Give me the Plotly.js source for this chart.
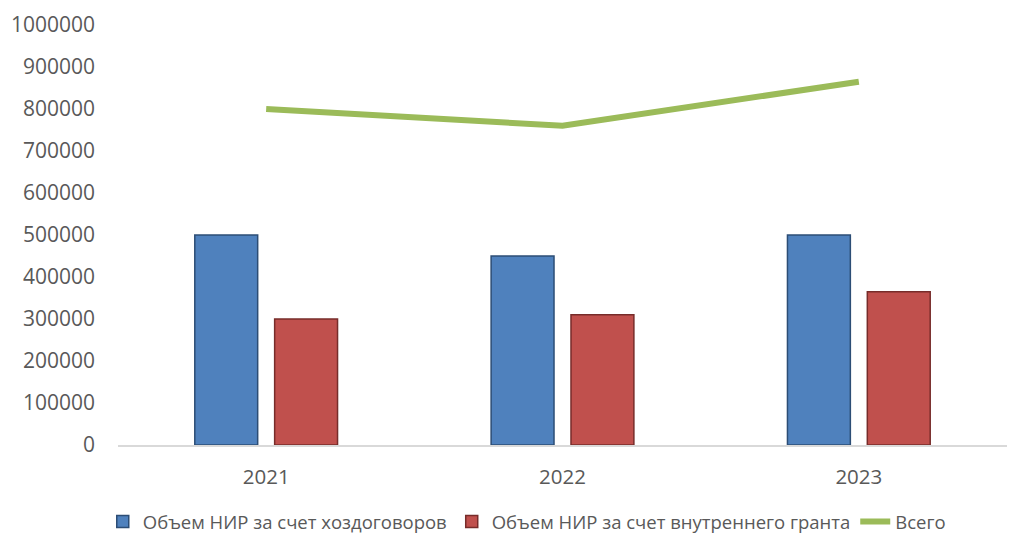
<!DOCTYPE html>
<html>
<head>
<meta charset="utf-8">
<script src="https://cdn.plot.ly/plotly-3.0.1.min.js"></script>
<style>html,body{margin:0;padding:0;background:#fff;}#chart{width:1013px;height:542px;}</style>
</head>
<body>
<div id="chart"></div>
<script>
const years = ["2021", "2022", "2023"];
const contracts = [500000, 450000, 500000];
const grant = [300000, 310000, 365000];
const total = [800000, 760000, 865000];
const yTicks = [0, 100000, 200000, 300000, 400000, 500000, 600000, 700000, 800000, 900000, 1000000];
const names = ["Объем НИР за счет хоздоговоров", "Объем НИР за счет внутреннего гранта", "Всего"];

const font = "Open Sans, DejaVu Sans, sans-serif";
const data = [
  {type: "bar", x: years, y: contracts, name: names[0],
   marker: {color: "#4f81bd", line: {color: "#2c4d75", width: 1.5}}},
  {type: "bar", x: years, y: grant, name: names[1],
   marker: {color: "#c0504d", line: {color: "#772c2a", width: 1.5}}},
  {type: "scatter", mode: "lines", x: years, y: total, name: names[2],
   line: {color: "#9bbb59", width: 6}}
];
const layout = {
  width: 1013, height: 542,
  margin: {l: 118, r: 6, t: 25, b: 97},
  paper_bgcolor: "#ffffff", plot_bgcolor: "#ffffff",
  font: {family: font, size: 20, color: "#595959"},
  barmode: "group", bargap: 0.461, bargroupgap: 0.2125,
  showlegend: true,
  legend: {orientation: "h", xref: "container", x: 0.52, xanchor: "center",
           yref: "container", y: 0.037, yanchor: "middle",
           font: {family: font, size: 18.5, color: "#595959"}, traceorder: "normal",
           itemwidth: 30, tracegroupgap: 0},
  xaxis: {type: "category", showgrid: false, showline: true, linecolor: "#d9d9d9", linewidth: 1.5,
          ticks: "", ticklabelstandoff: 13, tickfont: {size: 20.5, color: "#595959"}, fixedrange: true},
  yaxis: {range: [0, 1000000], tickvals: yTicks, ticktext: yTicks.map(String), showgrid: false,
          zeroline: false, showline: false, ticks: "", ticklabelstandoff: 22,
          tickfont: {size: 21, color: "#595959"}, fixedrange: true}
};
Plotly.newPlot("chart", data, layout, {displayModeBar: false, staticPlot: true});
</script>
</body>
</html>
